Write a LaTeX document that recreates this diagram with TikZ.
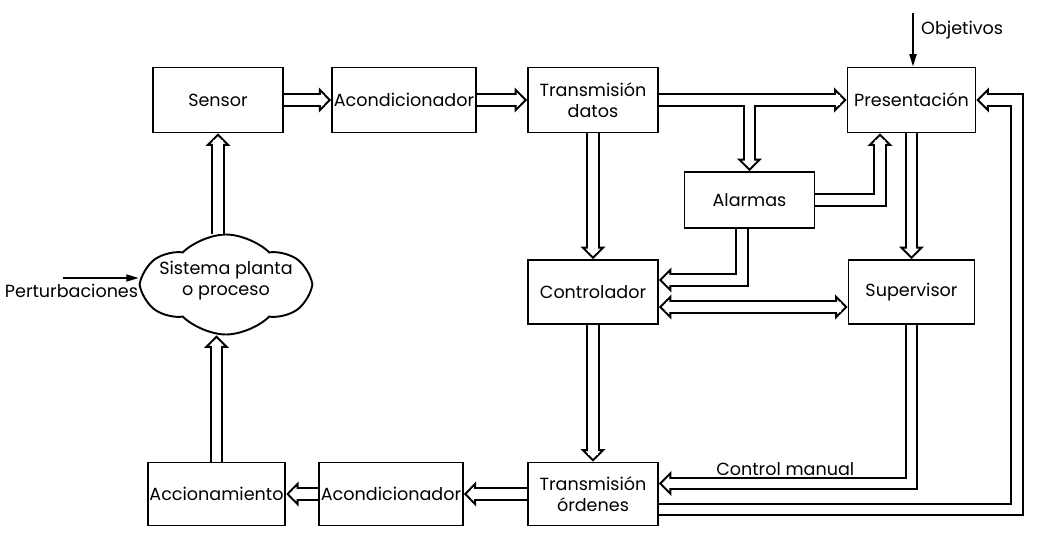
\documentclass[tikz,border=0pt]{standalone}
\usepackage{fontspec}
\setmainfont{Poppins}
\usetikzlibrary{arrows.meta,positioning,shapes.symbols,calc}

\begin{document}
\begin{tikzpicture}[every node/.style={font=\fontsize{10}{12}\selectfont},
  bx/.style={draw, line width=1.1pt, minimum width=2.6cm, minimum height=1.3cm, align=center, inner sep=1pt},
  flow/.style={draw=white, line width=5.4pt, shorten >=4pt, shorten <=0pt,
    preaction={draw=black, line width=7.8pt, shorten >=4pt, shorten <=#1},
    preaction={draw=black, line width=1.1pt, shorten >=0pt, shorten <=0pt, -{Triangle[length=7pt, width=14pt, fill=white]}}},
  flow/.default=0pt,
  flowboth/.style={draw=white, line width=5.4pt, shorten >=4pt, shorten <=4pt,
    preaction={draw=black, line width=7.8pt},
    preaction={draw=black, line width=1.1pt, shorten >=0pt, shorten <=0pt, {Triangle[length=7pt, width=14pt, fill=white]}-{Triangle[length=7pt, width=14pt, fill=white]}}},
  inlet/.style={line width=0.9pt, -{Triangle[length=7pt, width=4pt]}}]
\useasboundingbox (0,0) rectangle (21.04,10.82);
% Measurement chain
\node[bx] (sensor) at (4.36,8.82) {Sensor};
\node[bx, minimum width=2.84cm] (acondin) at (8.08,8.82) {Acondicionador};
\node[bx] (datos) at (11.86,8.82) {Transmisión\\datos};
\node[bx, minimum width=2.56cm] (pres) at (18.23,8.82) {Presentación};
\node[bx, minimum height=1.12cm] (alarm) at (14.99,6.82) {Alarmas};
\node[bx, minimum height=1.28cm] (control) at (11.86,4.98) {Controlador};
\node[bx, minimum width=2.52cm, minimum height=1.28cm] (superv) at (18.23,4.98) {Supervisor};
% Actuation chain
\node[bx, minimum height=1.26cm] (orden) at (11.86,0.94) {Transmisión\\órdenes};
\node[bx, minimum width=2.72cm, minimum height=1.26cm] (acondout) at (7.82,0.94) {Acondicionador};
\node[bx, minimum width=2.74cm, minimum height=1.26cm] (accion) at (4.33,0.94) {Accionamiento};
% Plant
\node[cloud, draw, line width=1.1pt, cloud puffs=6, cloud puff arc=90, cloud ignores aspect,
  minimum width=3.3cm, minimum height=2.0cm, inner sep=0pt] (plant) at (4.52,5.13) {};
\node[align=center] (plantlbl) at ([yshift=0.08cm]plant) {Sistema planta\\o proceso};
% Inputs
\coordinate (pin) at (1.26,5.26);
\node (pertlbl) at (1.43,5.0) {Perturbaciones};
\draw[inlet] (pin) -- (pin -| plant.west);
\coordinate (objin) at (18.26,10.56);
\node[anchor=west] (objlbl) at (18.3,10.22) {Objetivos};
\draw[inlet] (objin) -- (objin |- pres.north);
% Signal flow
\draw[flow] (sensor) -- (acondin);
\draw[flow] (acondin) -- (datos);
\draw[flow] (datos) -- (pres);
\draw[flow=2.8pt] (datos.east -| alarm.north) -- (alarm.north);
\draw[flow] (alarm.east) -| ([xshift=-0.63cm]pres.south);
\draw[flow] (pres) -- (superv);
\draw[flow] (datos) -- (control);
\draw[flow] ([xshift=-0.15cm]alarm.south) |- ([yshift=0.24cm]control.east);
\draw[flowboth] ([yshift=-0.3cm]control.east) -- ([yshift=-0.3cm]superv.west);
\draw[flow] (control) -- (orden);
\draw[flow] (superv.south) |- node[pos=0.75, above=1pt, inner sep=1pt] (manual) {Control manual} ([yshift=0.21cm]orden.east);
\coordinate (loop) at (20.34,8.82);
\draw[flow] ([yshift=-0.31cm]orden.east) -| (loop) -- (pres.east);
\draw[flow] (orden) -- (acondout);
\draw[flow] (acondout) -- (accion);
\draw[flow] (accion.north) -- (plant.south -| accion.north);
\draw[flow] (plant.north -| sensor.south) -- (sensor.south);
\end{tikzpicture}
\end{document}
